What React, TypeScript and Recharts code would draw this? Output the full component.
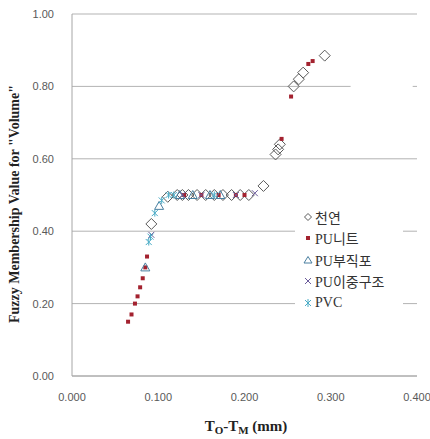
import React from "react";
import {
  CartesianGrid,
  Legend,
  ReferenceArea,
  Scatter,
  ScatterChart,
  XAxis,
  YAxis,
} from "recharts";

// values (x = To-Tm in mm, y = membership)
const natural = [
  { x: 0.092, y: 0.42 }, { x: 0.111, y: 0.495 }, { x: 0.122, y: 0.5 },
  { x: 0.128, y: 0.5 }, { x: 0.135, y: 0.5 }, { x: 0.145, y: 0.5 },
  { x: 0.155, y: 0.5 }, { x: 0.165, y: 0.5 }, { x: 0.175, y: 0.5 },
  { x: 0.185, y: 0.5 }, { x: 0.195, y: 0.5 }, { x: 0.205, y: 0.5 },
  { x: 0.222, y: 0.525 }, { x: 0.236, y: 0.612 }, { x: 0.239, y: 0.626 },
  { x: 0.241, y: 0.64 }, { x: 0.257, y: 0.8 }, { x: 0.263, y: 0.82 },
  { x: 0.268, y: 0.838 }, { x: 0.293, y: 0.885 },
];
const puKnit = [
  { x: 0.065, y: 0.15 }, { x: 0.069, y: 0.17 }, { x: 0.073, y: 0.2 },
  { x: 0.076, y: 0.22 }, { x: 0.079, y: 0.245 }, { x: 0.082, y: 0.27 },
  { x: 0.085, y: 0.3 }, { x: 0.087, y: 0.33 }, { x: 0.13, y: 0.5 },
  { x: 0.15, y: 0.5 }, { x: 0.17, y: 0.5 }, { x: 0.19, y: 0.5 },
  { x: 0.2, y: 0.5 }, { x: 0.243, y: 0.655 }, { x: 0.254, y: 0.772 },
  { x: 0.274, y: 0.862 }, { x: 0.279, y: 0.87 },
];
const puNonwoven = [
  { x: 0.085, y: 0.3 }, { x: 0.101, y: 0.47 }, { x: 0.125, y: 0.5 },
  { x: 0.14, y: 0.5 }, { x: 0.16, y: 0.5 }, { x: 0.172, y: 0.5 },
];
const puDouble = [
  { x: 0.092, y: 0.39 }, { x: 0.128, y: 0.5 }, { x: 0.15, y: 0.5 },
  { x: 0.19, y: 0.5 }, { x: 0.212, y: 0.505 },
];
const pvc = [
  { x: 0.089, y: 0.37 }, { x: 0.091, y: 0.385 }, { x: 0.096, y: 0.45 },
  { x: 0.104, y: 0.485 }, { x: 0.112, y: 0.5 }, { x: 0.118, y: 0.5 },
  { x: 0.165, y: 0.5 },
];
const xTicks = [0, 0.1, 0.2, 0.3, 0.4];
const yTicks = [0, 0.2, 0.4, 0.6, 0.8, 1.0];
const seriesNames = ["천연", "PU니트", "PU부직포", "PU이중구조", "PVC"];

const colNatural = "#5a5a5a";
const colKnit = "#a3222f";
const colNonwoven = "#4a7fa0";
const colDouble = "#6b5b9a";
const colPvc = "#4bacc6";

const Diamond = (p: any) => {
  const { cx, cy } = p;
  const r = 5.5;
  return (
    <path
      d={`M${cx},${cy - r}L${cx + r},${cy}L${cx},${cy + r}L${cx - r},${cy}Z`}
      fill="none"
      stroke={colNatural}
      strokeWidth={1}
    />
  );
};
const Square = (p: any) => (
  <rect x={p.cx - 2} y={p.cy - 2} width={4} height={4} fill={colKnit} />
);
const Triangle = (p: any) => {
  const { cx, cy } = p;
  return (
    <path
      d={`M${cx},${cy - 4.5}L${cx + 4.5},${cy + 3.5}L${cx - 4.5},${cy + 3.5}Z`}
      fill="none"
      stroke={colNonwoven}
      strokeWidth={1}
    />
  );
};
const Cross = (p: any) => {
  const { cx, cy } = p;
  const r = 3;
  return (
    <path
      d={`M${cx - r},${cy - r}L${cx + r},${cy + r}M${cx - r},${cy + r}L${cx + r},${cy - r}`}
      stroke={colDouble}
      strokeWidth={1}
    />
  );
};
const Star = (p: any) => {
  const { cx, cy } = p;
  const r = 3;
  return (
    <path
      d={`M${cx - r},${cy - r}L${cx + r},${cy + r}M${cx - r},${cy + r}L${cx + r},${cy - r}M${cx},${cy - r - 0.5}L${cx},${cy + r + 0.5}`}
      stroke={colPvc}
      strokeWidth={1}
    />
  );
};

const legendIcons = [
  <path d="M5,1.5L8.5,5L5,8.5L1.5,5Z" fill="none" stroke={colNatural} />,
  <rect x={3} y={3} width={4} height={4} fill={colKnit} />,
  <path d="M5,1.5L9,8L1,8Z" fill="none" stroke={colNonwoven} />,
  <path d="M2,2L8,8M2,8L8,2" stroke={colDouble} />,
  <path d="M2,2L8,8M2,8L8,2M5,1L5,9" stroke={colPvc} />,
];

const LegendBox = () => (
  <div
    style={{
      background: "#fff",
      padding: "2px 0 4px 8px",
      fontFamily: "'Liberation Serif', 'Noto Sans CJK KR', serif",
      fontSize: 14,
      color: "#333",
      width: 100,
    }}
  >
    {seriesNames.map((n, i) => (
      <div
        key={n}
        style={{ display: "flex", alignItems: "center", height: 21.5 }}
      >
        <svg width={10} height={10} style={{ marginRight: 2 }}>
          {legendIcons[i]}
        </svg>
        <span>{n}</span>
      </div>
    ))}
  </div>
);

const tickStyle = {
  fontFamily: "'Liberation Sans', Arial, sans-serif",
  fontSize: 11,
  fill: "#595959",
};

export default function App() {
  return (
    <div style={{ position: "absolute", left: 0, top: 0, background: "#fff" }}>
      <ScatterChart
        width={430}
        height={439}
        margin={{ top: 14, right: 13, bottom: 13, left: 10 }}
      >
        <CartesianGrid vertical={false} stroke="#b3b3b3" />
        <ReferenceArea
          x1={0.323}
          x2={0.395}
          y1={0.79}
          y2={0.81}
          fill="#fff"
          fillOpacity={1}
          stroke="none"
        />
        <XAxis
          type="number"
          dataKey="x"
          domain={[0, 0.4]}
          ticks={xTicks}
          tickFormatter={(v: number) => v.toFixed(3)}
          tickLine={false}
          axisLine={{ stroke: "#a6a6a6" }}
          tick={tickStyle}
          tickMargin={11}
          height={50}
        />
        <YAxis
          type="number"
          dataKey="y"
          domain={[0, 1]}
          ticks={yTicks}
          tickFormatter={(v: number) => v.toFixed(2)}
          tickLine={false}
          axisLine={{ stroke: "#a6a6a6" }}
          tick={tickStyle}
          tickMargin={12}
          width={62}
        />
        <Legend
          layout="horizontal"
          align="center"
          verticalAlign="middle"
          content={() => <LegendBox />}
          wrapperStyle={{ left: 295, top: 204, width: 108 }}
        />
        <Scatter name={seriesNames[0]} data={natural} shape={Diamond} isAnimationActive={false} />
        <Scatter name={seriesNames[1]} data={puKnit} shape={Square} isAnimationActive={false} />
        <Scatter name={seriesNames[2]} data={puNonwoven} shape={Triangle} isAnimationActive={false} />
        <Scatter name={seriesNames[3]} data={puDouble} shape={Cross} isAnimationActive={false} />
        <Scatter name={seriesNames[4]} data={pvc} shape={Star} isAnimationActive={false} />
        <text
          x={246}
          y={431}
          textAnchor="middle"
          style={{
            fontFamily: "'Liberation Serif', serif",
            fontWeight: "bold",
            fontSize: 15,
            fill: "#222",
          }}
        >
          T
          <tspan fontSize={11} dy={3}>O</tspan>
          <tspan dy={-3}>-T</tspan>
          <tspan fontSize={11} dy={3}>M</tspan>
          <tspan dy={-3}> (mm)</tspan>
        </text>
        <text
          x={19}
          y={204}
          textAnchor="middle"
          transform="rotate(-90 19 204)"
          style={{
            fontFamily: "'Liberation Serif', serif",
            fontWeight: "bold",
            fontSize: 14,
            fill: "#222",
          }}
        >
          Fuzzy Membership Value for "Volume"
        </text>
      </ScatterChart>
    </div>
  );
}
